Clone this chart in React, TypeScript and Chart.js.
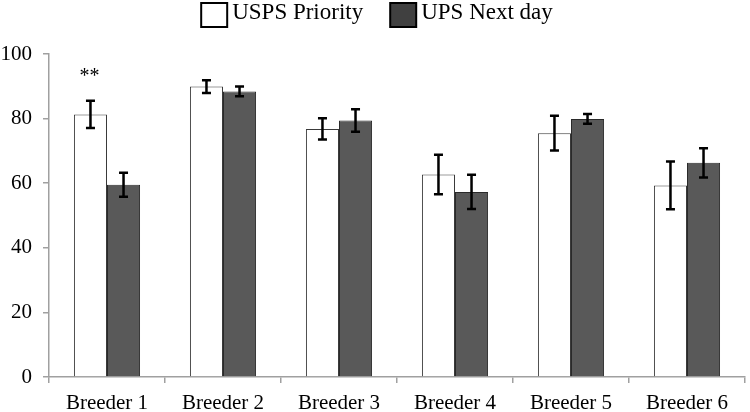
import React, { useEffect, useRef } from "react";
import { Chart, registerables } from "chart.js";

Chart.register(...registerables);

const categories = ["Breeder 1", "Breeder 2", "Breeder 3", "Breeder 4", "Breeder 5", "Breeder 6"];
const seriesNames = ["USPS Priority", "UPS Next day"];
const uspsValues = [81.3, 89.9, 76.8, 62.7, 75.5, 59.3];
const uspsErrors = [4.2, 2.0, 3.3, 6.1, 5.4, 7.4];
const upsValues = [59.5, 88.4, 79.4, 57.3, 79.9, 66.3];
const upsErrors = [3.7, 1.5, 3.5, 5.3, 1.5, 4.5];
const yTicks = [0, 20, 40, 60, 80, 100];
const annotationCategory = 0;
const annotationSeries = 0;
const annotationText = "**";
const annotationValue = 94;

const FONT = "'Liberation Serif', 'Times New Roman', serif";
const errorSets = [uspsErrors, upsErrors];
const fills = ["#ffffff", "#595959"];
const legendFills = ["#ffffff", "#404040"];
const borders = ["#3a3a3a", "#2a2a2a"];

const errorBarPlugin = {
  id: "errorBars",
  afterDatasetsDraw(chart: any) {
    const ctx = chart.ctx;
    const ys = chart.scales.y;
    chart.data.datasets.forEach((ds: any, di: number) => {
      const meta = chart.getDatasetMeta(di);
      meta.data.forEach((bar: any, i: number) => {
        const v = ds.data[i];
        const e = errorSets[di][i];
        const x = bar.x;
        const top = ys.getPixelForValue(v + e);
        const bot = ys.getPixelForValue(v - e);
        ctx.save();
        ctx.strokeStyle = "#000";
        ctx.lineWidth = 2.5;
        ctx.beginPath();
        ctx.moveTo(x, top);
        ctx.lineTo(x, bot);
        ctx.moveTo(x - 4.5, top);
        ctx.lineTo(x + 4.5, top);
        ctx.moveTo(x - 4.5, bot);
        ctx.lineTo(x + 4.5, bot);
        ctx.stroke();
        ctx.restore();
      });
    });
    const meta = chart.getDatasetMeta(annotationSeries);
    const bar: any = meta.data[annotationCategory];
    if (bar) {
      ctx.save();
      ctx.fillStyle = "#000";
      ctx.font = `20px ${FONT}`;
      ctx.textAlign = "center";
      ctx.textBaseline = "alphabetic";
      ctx.fillText(annotationText, bar.x - 1, ys.getPixelForValue(annotationValue) + 9);
      ctx.restore();
    }
  },
};

const legendPlugin = {
  id: "customLegend",
  afterDraw(chart: any) {
    const ctx = chart.ctx;
    ctx.save();
    ctx.font = `23px ${FONT}`;
    ctx.textBaseline = "alphabetic";
    ctx.textAlign = "left";
    const boxW = 26;
    const boxH = 24;
    const gapText = 5;
    const gapItem = 27;
    const labels = chart.data.datasets.map((d: any) => d.label);
    const widths = labels.map((l: string) => ctx.measureText(l).width);
    const total =
      widths.reduce((a: number, w: number) => a + w + boxW + gapText, 0) + gapItem * (labels.length - 1);
    let x = chart.width / 2 + 2 - total / 2;
    const yTop = 3;
    labels.forEach((label: string, di: number) => {
      ctx.fillStyle = legendFills[di];
      ctx.fillRect(x, yTop, boxW, boxH);
      ctx.strokeStyle = "#000";
      ctx.lineWidth = 2;
      ctx.strokeRect(x, yTop, boxW, boxH);
      const tx = x + boxW + gapText;
      ctx.fillStyle = "#000";
      ctx.fillText(label, tx, 19);
      x = tx + widths[di] + gapItem;
    });
    ctx.restore();
  },
};

export default function App() {
  const ref = useRef<HTMLCanvasElement>(null);
  useEffect(() => {
    if (!ref.current) return;
    const chart = new Chart(ref.current, {
      type: "bar",
      data: {
        labels: categories,
        datasets: [
          {
            label: seriesNames[0],
            data: uspsValues,
            backgroundColor: fills[0],
            borderColor: borders[0],
            borderWidth: 1,
            barPercentage: 1,
            categoryPercentage: 0.57,
          },
          {
            label: seriesNames[1],
            data: upsValues,
            backgroundColor: fills[1],
            borderColor: borders[1],
            borderWidth: 1,
            barPercentage: 1,
            categoryPercentage: 0.57,
          },
        ],
      },
      options: {
        responsive: false,
        animation: false,
        layout: { padding: { top: 54, left: 2, right: 5, bottom: 0 } },
        plugins: {
          legend: { display: false },
          tooltip: { enabled: false },
        },
        scales: {
          x: {
            offset: true,
            afterFit: (s: any) => {
              s.height = 35;
            },
            grid: {
              display: true,
              drawOnChartArea: false,
              offset: true,
              tickLength: 6,
              color: "#a0a0a0",
              lineWidth: 1.5,
            },
            border: { color: "#a0a0a0", width: 1.5 },
            ticks: {
              color: "#000",
              font: { family: FONT, size: 21 },
              padding: 8,
              maxRotation: 0,
            },
          },
          y: {
            min: 0,
            max: 100,
            afterBuildTicks: (s: any) => {
              s.ticks = yTicks.map((v) => ({ value: v }));
            },
            afterFit: (s: any) => {
              s.width = 47;
            },
            grid: {
              drawOnChartArea: false,
              tickLength: 6,
              color: "#a0a0a0",
              lineWidth: 1.5,
            },
            border: { color: "#a0a0a0", width: 1.5 },
            ticks: {
              color: "#000",
              font: { family: FONT, size: 21 },
              padding: 11,
            },
          },
        },
      },
      plugins: [errorBarPlugin, legendPlugin],
    });
    return () => chart.destroy();
  }, []);
  return (
    <div style={{ position: "absolute", left: 0, top: 0, width: 750, height: 412, background: "#fff" }}>
      <canvas ref={ref} width={750} height={412} style={{ display: "block" }} />
    </div>
  );
}
